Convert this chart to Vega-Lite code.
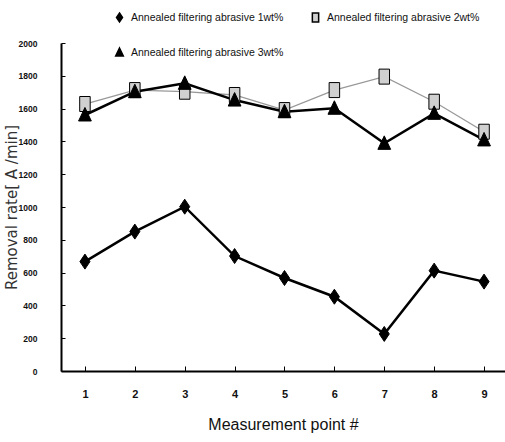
{
  "$schema": "https://vega.github.io/schema/vega-lite/v6.json",
  "width": 444,
  "height": 328,
  "autosize": "none",
  "padding": {"left": 61, "top": 43, "right": 0, "bottom": 71},
  "background": "white",
  "config": {
    "view": {"stroke": null},
    "font": "Liberation Sans, sans-serif"
  },
  "data": {
    "values": [
      {"point": 1, "series": "Annealed filtering abrasive 2wt%", "rate": 1628},
      {"point": 2, "series": "Annealed filtering abrasive 2wt%", "rate": 1713},
      {"point": 3, "series": "Annealed filtering abrasive 2wt%", "rate": 1703},
      {"point": 4, "series": "Annealed filtering abrasive 2wt%", "rate": 1683},
      {"point": 5, "series": "Annealed filtering abrasive 2wt%", "rate": 1591},
      {"point": 6, "series": "Annealed filtering abrasive 2wt%", "rate": 1713},
      {"point": 7, "series": "Annealed filtering abrasive 2wt%", "rate": 1795},
      {"point": 8, "series": "Annealed filtering abrasive 2wt%", "rate": 1642},
      {"point": 9, "series": "Annealed filtering abrasive 2wt%", "rate": 1459},
      {"point": 1, "series": "Annealed filtering abrasive 1wt%", "rate": 667},
      {"point": 2, "series": "Annealed filtering abrasive 1wt%", "rate": 850},
      {"point": 3, "series": "Annealed filtering abrasive 1wt%", "rate": 1002},
      {"point": 4, "series": "Annealed filtering abrasive 1wt%", "rate": 701},
      {"point": 5, "series": "Annealed filtering abrasive 1wt%", "rate": 567},
      {"point": 6, "series": "Annealed filtering abrasive 1wt%", "rate": 453},
      {"point": 7, "series": "Annealed filtering abrasive 1wt%", "rate": 226},
      {"point": 8, "series": "Annealed filtering abrasive 1wt%", "rate": 612},
      {"point": 9, "series": "Annealed filtering abrasive 1wt%", "rate": 545},
      {"point": 1, "series": "Annealed filtering abrasive 3wt%", "rate": 1561},
      {"point": 2, "series": "Annealed filtering abrasive 3wt%", "rate": 1703},
      {"point": 3, "series": "Annealed filtering abrasive 3wt%", "rate": 1754},
      {"point": 4, "series": "Annealed filtering abrasive 3wt%", "rate": 1652},
      {"point": 5, "series": "Annealed filtering abrasive 3wt%", "rate": 1581},
      {"point": 6, "series": "Annealed filtering abrasive 3wt%", "rate": 1602},
      {"point": 7, "series": "Annealed filtering abrasive 3wt%", "rate": 1388},
      {"point": 8, "series": "Annealed filtering abrasive 3wt%", "rate": 1571},
      {"point": 9, "series": "Annealed filtering abrasive 3wt%", "rate": 1409}
    ]
  },
  "encoding": {
    "x": {
      "field": "point",
      "type": "quantitative",
      "scale": {"domain": [0.52, 9.42], "nice": false, "zero": false},
      "axis": {
        "values": [1, 2, 3, 4, 5, 6, 7, 8, 9],
        "format": "d",
        "title": "Measurement point #",
        "titleFont": "Liberation Sans, sans-serif",
        "titleFontSize": 16,
        "titleFontWeight": "normal",
        "titleColor": "#111",
        "titlePadding": 17,
        "labelFontSize": 11,
        "labelFontWeight": "bold",
        "labelColor": "#111",
        "labelPadding": 22,
        "tickSize": -5,
        "tickColor": "#000",
        "domainColor": "#000",
        "domainWidth": 2,
        "grid": false
      }
    },
    "y": {
      "field": "rate",
      "type": "quantitative",
      "scale": {"domain": [0, 2000], "nice": false},
      "axis": {
        "values": [0, 200, 400, 600, 800, 1000, 1200, 1400, 1600, 1800, 2000],
        "format": "d",
        "title": "Removal rate[ A /min]",
        "titleFont": "DejaVu Sans, sans-serif",
        "titleFontSize": 15,
        "titleFontWeight": "normal",
        "titleColor": "#333",
        "titleAngle": -90,
        "titleX": -42,
        "titleY": 164,
        "titleAlign": "center",
        "titleBaseline": "bottom",
        "labelFontSize": 8.5,
        "labelFontWeight": "bold",
        "labelColor": "#111",
        "labelPadding": 28,
        "tickSize": -4,
        "tickColor": "#000",
        "domainColor": "#000",
        "domainWidth": 2,
        "grid": false
      }
    }
  },
  "layer": [
    {
      "mark": {"type": "line"},
      "encoding": {
        "detail": {"field": "series"},
        "stroke": {
          "condition": {"test": "indexof(datum.series,'2wt')>=0", "value": "#999999"},
          "value": "#000000"
        },
        "strokeWidth": {
          "condition": {"test": "indexof(datum.series,'2wt')>=0", "value": 1.3},
          "value": 2.5
        }
      }
    },
    {
      "mark": {"type": "point", "filled": true, "stroke": "#000", "strokeWidth": 1, "opacity": 1},
      "encoding": {
        "fill": {
          "field": "series",
          "type": "nominal",
          "scale": {
            "domain": ["Annealed filtering abrasive 1wt%", "Annealed filtering abrasive 2wt%", "Annealed filtering abrasive 3wt%"],
            "range": ["#000000", "#d0d0d0", "#000000"]
          },
          "legend": {
            "title": null,
            "orient": "none",
            "legendX": 47,
            "legendY": -31,
            "direction": "horizontal",
            "columns": 2,
            "columnPadding": 20,
            "rowPadding": 20,
            "labelFontSize": 10.5,
            "labelLimit": 0,
            "labelColor": "#111",
            "labelFont": "Liberation Sans, sans-serif",
            "symbolSize": 81,
            "symbolOffset": 6,
            "labelOffset": 6,
            "encode": {
              "symbols": {
                "stroke": {"value": "#000"},
                "strokeWidth": {"value": 1.2}
              }
            }
          }
        },
        "shape": {
          "field": "series",
          "type": "nominal",
          "scale": {
            "domain": ["Annealed filtering abrasive 1wt%", "Annealed filtering abrasive 2wt%", "Annealed filtering abrasive 3wt%"],
            "range": ["M0,-1L0.67,0L0,1L-0.67,0Z", "M-0.7,-1H0.7V1H-0.7Z", "M0,-1L0.85,0.8L-0.85,0.8Z"]
          },
          "legend": {
            "title": null,
            "orient": "none",
            "legendX": 47,
            "legendY": -31,
            "direction": "horizontal",
            "columns": 2,
            "columnPadding": 20,
            "rowPadding": 20,
            "labelFontSize": 10.5,
            "labelLimit": 0,
            "labelColor": "#111",
            "labelFont": "Liberation Sans, sans-serif",
            "symbolSize": 81,
            "symbolOffset": 6,
            "labelOffset": 6,
            "encode": {
              "symbols": {
                "stroke": {"value": "#000"},
                "strokeWidth": {"value": 1.2}
              }
            }
          }
        },
        "size": {"value": 225}
      }
    }
  ]
}
